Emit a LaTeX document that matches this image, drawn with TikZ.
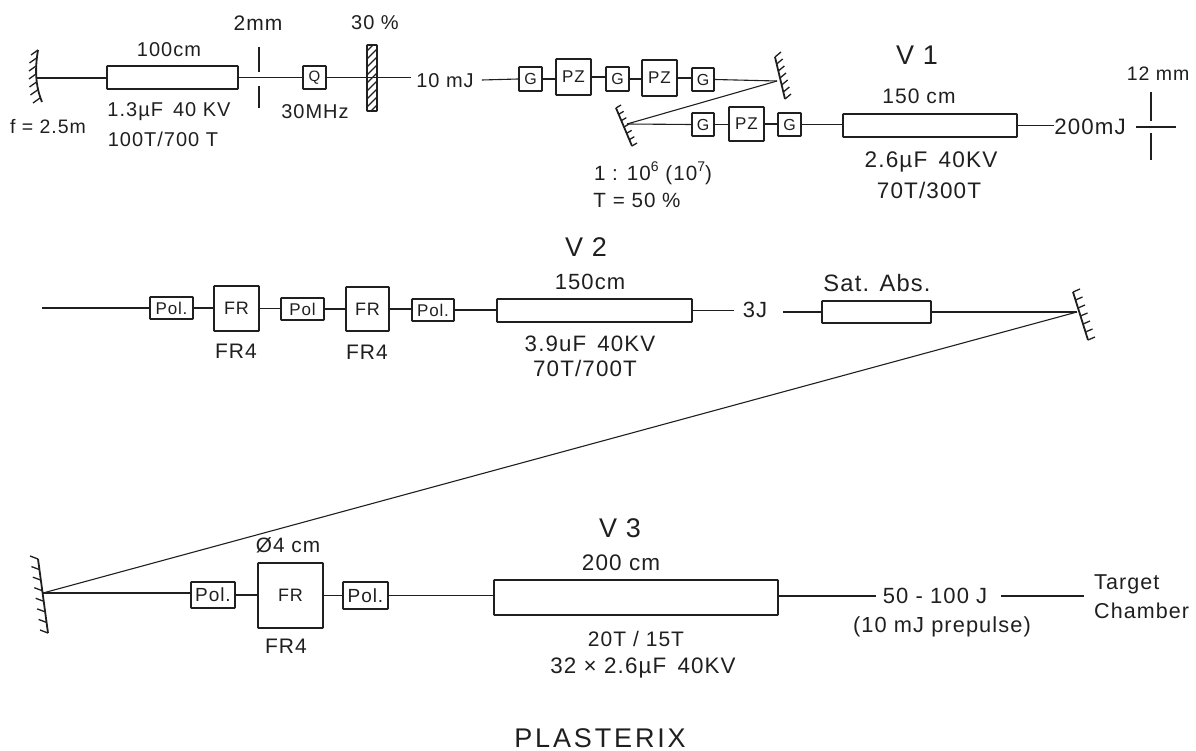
\documentclass[tikz,border=0pt]{standalone}
\usepackage{fontspec}
\setmainfont{Liberation Sans}[LetterSpace=5]
\newfontfamily\widefont{Liberation Sans}[LetterSpace=10.6]
\usetikzlibrary{calc}
\definecolor{ink}{gray}{0.12}
\tikzset{
  comp/.style={draw=ink,line width=1.6pt,rectangle,inner sep=0pt,rounded corners=0.5pt,text=ink},
  lab/.style={inner sep=0pt,text=ink,align=center},
  fs/.style={font=\fontsize{#1}{#1}\selectfont},
  beam/.style={draw=ink,line width=1.1pt},
  stopbar/.style={draw=ink,line width=1.5pt},
  mirrorline/.style={draw=ink,line width=1.8pt},
  tick/.style={draw=ink,line width=1.3pt}
}
% name, x1,y1,x2,y2, font size, text
\newcommand{\cbox}[7]{%
  \pgfmathsetmacro{\cw}{#4-#2}\pgfmathsetmacro{\ch}{#5-#3}%
  \pgfmathsetmacro{\cx}{(#2+#4)/2}\pgfmathsetmacro{\cy}{(#3+#5)/2}%
  \node[comp,minimum width=\cw pt,minimum height=\ch pt,font=\fontsize{#6}{#6}\selectfont] (#1) at (\cx,\cy) {#7};}
\newcommand{\ticks}[5]{%
  \pgfmathsetmacro{\tstep}{1/(#5-1)}\pgfmathsetmacro{\tnext}{\tstep}%
  \foreach \t in {0,\tnext,...,1.01}{\draw[tick] ($(#1)!\t!(#2)$) -- ++(#3,#4);}}
\newcommand{\hcon}[2]{\draw[beam] (#1.east) -- (#1.east -| #2.west);}
\newcommand{\sups}[1]{\raisebox{0.42em}{\fontsize{14}{14}\selectfont #1}}
\begin{document}
\begin{tikzpicture}[x=1pt,y=-1pt]
\useasboundingbox (0,0) rectangle (1196,751);
%% Row 1
\coordinate (ma) at (38,50); \coordinate (mb) at (42,102); \coordinate (m1) at (36,78);
\draw[mirrorline] (ma) .. controls (35,68) and (35,85) .. (mb);
\foreach \px/\py in {38/50,36.5/58,36/66,36/74,36.5/82,37.5/90,40/98}{\draw[tick] (\px,\py) -- ++(-7,5);}
\cbox{t1}{107}{66}{238}{89}{19}{}
\cbox{q}{303}{66}{326}{89}{15}{Q}
\node[lab,fs=20] (mj10) at (445,81) {10 mJ};
\draw[beam] (m1) -- (m1 -| t1.west);
\hcon{t1}{q}
\draw[beam,shorten >=5pt] (q.east) -- (q.east -| mj10.west);
\cbox{pl}{367}{45}{377}{111}{10}{}
\begin{scope}
\clip (367,45) rectangle (377,111);
\foreach \k in {45,53,...,125}{\draw[ink,line width=1.3pt] (365,\k) -- (380,\k-15);}
\end{scope}
\coordinate (s1a) at (259,47); \coordinate (s1b) at (259,72);
\coordinate (s1c) at (259,86); \coordinate (s1d) at (259,108);
\draw[stopbar] (s1a) -- (s1b); \draw[stopbar] (s1c) -- (s1d);
\node[lab,fs=20] (l1) at (169,50) {100cm};
\node[lab,fs=21] (l2) at (258,23) {2mm};
\node[lab,fs=20] (l3) at (375,23) {30 \%};
\node[lab,fs=20] (l4) at (169,112) {1.3µF\enspace 40 KV};
\node[lab,fs=20] (l5) at (163,139) {100T/700 T};
\node[lab,fs=20] (l6) at (315,112) {30MHz};
\node[lab,fs=19.5] (l7) at (48,127) {f = 2.5m};
%% G / PZ upper
\cbox{g1}{519}{67}{542}{91}{16}{G}
\cbox{pz1}{556}{59}{591}{95}{17}{PZ}
\cbox{g2}{606}{67}{629}{91}{16}{G}
\cbox{pz2}{642}{60}{677}{96}{17}{PZ}
\cbox{g3}{692}{68}{714}{91}{16}{G}
\coordinate (m2) at (777,81); \coordinate (m2a) at (775,57); \coordinate (m2b) at (785,99);
\draw[mirrorline] (m2a) -- (m2b);
\ticks{m2a}{m2b}{6}{-5}{7}
\draw[beam] ($(mj10.east)+(8,-1)$) -- (g1.west);
\hcon{g1}{pz1} \hcon{pz1}{g2} \hcon{g2}{pz2} \hcon{pz2}{g3}
\draw[beam] (g3.east) -- (m2);
%% lower mirror
\coordinate (m3) at (627,124); \coordinate (m3a) at (616,108); \coordinate (m3b) at (632,146);
\draw[mirrorline] (m3a) -- (m3b);
\ticks{m3a}{m3b}{5}{-3}{7}
\draw[beam] (m2) -- (m3);
\cbox{g4}{692}{113}{714}{136}{16}{G}
\cbox{pz3}{729}{107}{764}{141}{17}{PZ}
\cbox{g5}{778}{113}{801}{136}{16}{G}
\cbox{t2}{843}{114}{1017}{137}{19}{}
\node[lab,fs=22.3] (mj200) at (1090,127) {200mJ};
\draw[beam] (m3) -- (g4.west);
\hcon{g4}{pz3} \hcon{pz3}{g5} \hcon{g5}{t2}
\draw[beam] (t2.east) -- (t2.east -| mj200.west);
\coordinate (o1) at (1136,127); \coordinate (o2) at (1176,127);
\draw[beam] (o1) -- (o2);
\coordinate (s2a) at (1151,92); \coordinate (s2b) at (1151,121);
\coordinate (s2c) at (1151,133); \coordinate (s2d) at (1151,160);
\draw[stopbar] (s2a) -- (s2b); \draw[stopbar] (s2c) -- (s2d);
\node[lab,fs=19.5] (l8) at (1158,74) {12 mm};
\node[lab,fs=27] (l9) at (917,55) {V 1};
\node[lab,fs=21] (l10) at (919,96) {150 cm};
\node[lab,fs=22.6] (l11) at (931,162) {2.6µF\enspace 40KV};
\node[lab,fs=22.5] (l12) at (929,190) {70T/300T};
\node[lab,fs=20.6] (l13) at (653,173) {1 : 10\sups{6} (10\sups{7})};
\node[lab,fs=20.6] (l14) at (637,200) {T = 50 \%};
%% Row 2
\coordinate (r2) at (42,308);
\cbox{p1}{150}{297}{193}{319}{17}{Pol.}
\cbox{f1}{214}{286}{259}{331}{18}{FR}
\cbox{p2}{281}{298}{324}{320}{17}{Pol}
\cbox{f2}{346}{287}{389}{331}{18}{FR}
\cbox{p3}{412}{299}{454}{321}{17}{Pol.}
\cbox{t3}{497}{299}{692}{322}{19}{}
\node[lab,fs=22] (j3) at (755,310) {3J};
\cbox{t4}{822}{301}{931}{323}{19}{}
\coordinate (m4) at (1077,312); \coordinate (m4a) at (1073,292); \coordinate (m4b) at (1088,340);
\draw[mirrorline] (m4a) -- (m4b);
\ticks{m4a}{m4b}{7}{-3}{7}
\draw[beam] (r2) -- (r2 -| p1.west);
\hcon{p1}{f1} \hcon{f1}{p2} \hcon{p2}{f2} \hcon{f2}{p3} \hcon{p3}{t3}
\draw[beam,shorten >=9pt] (t3.east) -- (t3.east -| j3.west);
\draw[beam,shorten <=16pt] (j3.east |- t4.west) -- (t4.west);
\draw[beam] (t4.east) -- (m4);
\node[lab,fs=27] (l15) at (586,247) {V 2};
\node[lab,fs=22] (l16) at (590,282) {150cm};
\node[lab,fs=22.3] (l17) at (590,344) {3.9uF\enspace 40KV};
\node[lab,fs=22.4] (l18) at (585,368) {70T/700T};
\node[lab,fs=23.7] (l19) at (877,283) {Sat. Abs.};
\node[lab,fs=21] (l20) at (236,351) {FR4};
\node[lab,fs=21] (l21) at (367,352) {FR4};
%% Row 3
\coordinate (m5) at (43,593); \coordinate (m5a) at (38,559); \coordinate (m5b) at (48,633);
\draw[mirrorline] (m5a) -- (m5b);
\ticks{m5a}{m5b}{-8}{-3}{8}
\draw[beam] (m4) -- (m5);
\cbox{p4}{191}{582}{235}{608}{19}{Pol.}
\cbox{f3}{258}{563}{323}{628}{18}{FR}
\cbox{p5}{343}{582}{388}{609}{19}{Pol.}
\cbox{t5}{494}{580}{778}{615}{19}{}
\node[lab,fs=22] (j50) at (935,596) {50 - 100 J};
\node[lab,fs=21.5,align=left,anchor=west] (tc) at (1094,597) {Target\\[7.5pt]Chamber};
\draw[beam] (m5) -- (m5 -| p4.west);
\hcon{p4}{f3} \hcon{f3}{p5} \hcon{p5}{t5}
\draw[beam,shorten >=7pt] (t5.east |- j50) -- (j50.west);
\draw[beam,shorten <=14pt,shorten >=10pt] (j50.east) -- (j50.east -| tc.west);
\node[lab,fs=20.8] (l22) at (288,545) {Ø4 cm};
\node[lab,fs=21] (l23) at (286,646) {FR4};
\node[lab,fs=27] (l24) at (620,528) {V 3};
\node[lab,fs=22.5] (l25) at (621,563) {200 cm};
\node[lab,fs=21] (l26) at (636,639) {20T / 15T};
\node[lab,fs=22.4] (l27) at (643,668) {32 × 2.6µF\enspace 40KV};
\node[lab,fs=21.8] (l28) at (942,627) {(10 mJ prepulse)};
\node[lab,font=\fontsize{27}{27}\selectfont\widefont] (l29) at (600,738) {PLASTERIX};
\end{tikzpicture}
\end{document}
